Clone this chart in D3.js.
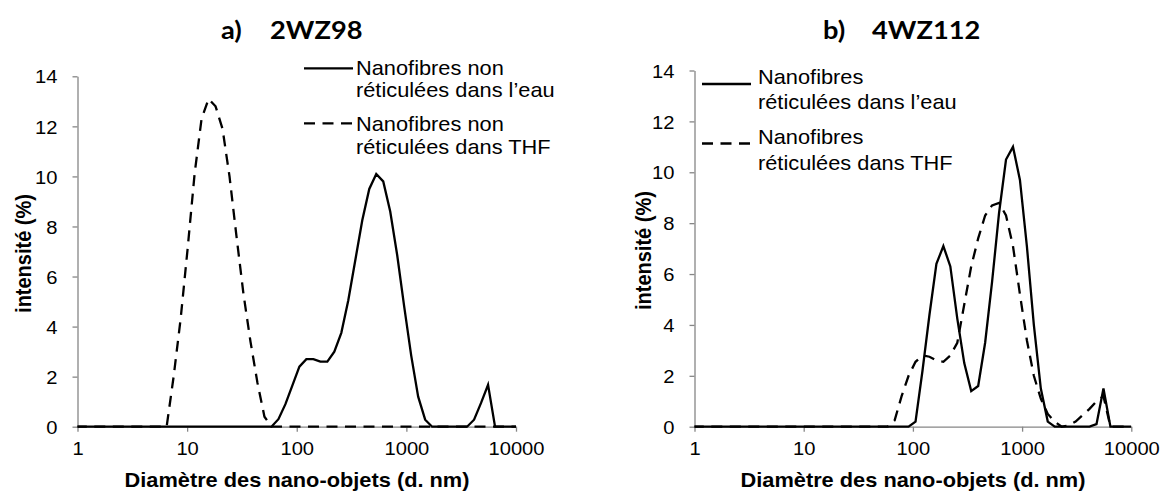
<!DOCTYPE html>
<html>
<head>
<meta charset="utf-8">
<script src="https://cdn.jsdelivr.net/npm/d3@7"></script>
<style>
  html, body { margin: 0; padding: 0; background: #fff; }
  svg { display: block; }
  text { font-family: "Liberation Sans", Arial, sans-serif; fill: #000; }
</style>
</head>
<body>
<svg id="chart" width="1164" height="495"></svg>
<script>
// Size classes of the DLS distribution (d. nm)
const diameters = [0.9649, 1.117, 1.294, 1.499, 1.736, 2.01, 2.328, 2.696, 3.122, 3.615,
  4.187, 4.849, 5.615, 6.503, 7.531, 8.721, 10.1, 11.7, 13.54, 15.69,
  18.17, 21.04, 24.36, 28.21, 32.67, 37.84, 43.82, 50.75, 58.77, 68.06,
  78.82, 91.28, 105.7, 122.4, 141.8, 164.2, 190.1, 220.2, 255.0, 295.3,
  342.0, 396.1, 458.7, 531.2, 615.1, 712.4, 825.0, 955.4, 1106, 1281,
  1484, 1718, 1990, 2305, 2669, 3091, 3580, 4145, 4801, 5560,
  6439, 7456, 8635, 10000];

// a) 2WZ98 : non-crosslinked nanofibres, intensity (%)
const water2WZ98 = [0, 0, 0, 0, 0, 0, 0, 0, 0, 0,
  0, 0, 0, 0, 0, 0, 0, 0, 0, 0,
  0, 0, 0, 0, 0, 0, 0, 0, 0, 0.3,
  0.9, 1.65, 2.4, 2.7, 2.7, 2.6, 2.6, 3.0, 3.75, 5.05,
  6.65, 8.25, 9.5, 10.1, 9.8, 8.6, 6.85, 4.8, 2.85, 1.2,
  0.28, 0, 0, 0, 0, 0, 0, 0.28, 0.95, 1.67,
  0, 0, 0, 0];
const thf2WZ98 = [0, 0, 0, 0, 0, 0, 0, 0, 0, 0,
  0, 0, 0, 0, 2.0, 4.3, 7.1, 10.1, 12.3, 13.1,
  12.8, 11.9, 10.0, 7.6, 5.3, 3.4, 1.75, 0.4, 0, 0,
  0, 0, 0, 0, 0, 0, 0, 0, 0, 0,
  0, 0, 0, 0, 0, 0, 0, 0, 0, 0,
  0, 0, 0, 0, 0, 0, 0, 0, 0, 0,
  0, 0, 0, 0];

// b) 4WZ112 : crosslinked nanofibres, intensity (%)
const water4WZ112 = [0, 0, 0, 0, 0, 0, 0, 0, 0, 0,
  0, 0, 0, 0, 0, 0, 0, 0, 0, 0,
  0, 0, 0, 0, 0, 0, 0, 0, 0, 0,
  0, 0, 0.2, 2.2, 4.4, 6.4, 7.1, 6.3, 4.25, 2.5,
  1.4, 1.6, 3.3, 5.7, 8.4, 10.5, 11.0, 9.7, 7.1, 4.0,
  1.5, 0.2, 0, 0, 0, 0, 0, 0, 0.1, 1.5,
  0, 0, 0, 0];
const thf4WZ112 = [0, 0, 0, 0, 0, 0, 0, 0, 0, 0,
  0, 0, 0, 0, 0, 0, 0, 0, 0, 0,
  0, 0, 0, 0, 0, 0, 0, 0, 0, 0.25,
  1.2, 2.0, 2.55, 2.8, 2.75, 2.6, 2.55, 2.8, 3.3, 4.8,
  6.3, 7.4, 8.3, 8.7, 8.8, 8.3, 7.1, 5.2, 3.4, 2.0,
  1.1, 0.5, 0.2, 0, 0.05, 0.2, 0.45, 0.7, 1.0, 1.2,
  0, 0, 0, 0];

const xTicks = [1, 10, 100, 1000, 10000];
const yTicks = [0, 2, 4, 6, 8, 10, 12, 14];

const legendA = [["Nanofibres non", "réticulées dans l’eau"], ["Nanofibres non", "réticulées dans THF"]];
const legendB = [["Nanofibres", "réticulées dans l’eau"], ["Nanofibres", "réticulées dans THF"]];

const xTitle = "Diamètre des nano-objets (d. nm)";
const yTitle = "intensité (%)";

// horizontal aspect of the lettering
const SX = 1.09;
const AXIS = "#868686";
const DASH = "11,7.5";

const panels = [
  { label: "a)", sample: "2WZ98", series: [water2WZ98, thf2WZ98], names: legendA,
    left: 77.5, right: 516, bottom: 426.7, top: 76.3,
    titleX: 221, yTitleX: 24, xTitleX: 297,
    legend: { x1: 304, x2: 353, tx: 356, lineY: [68.3, 123.3], rows: [[74.5, 96.5], [131, 153.5]] } },
  { label: "b)", sample: "4WZ112", series: [water4WZ112, thf4WZ112], names: legendB,
    left: 694.5, right: 1131.3, bottom: 426.7, top: 70.5,
    titleX: 823, yTitleX: 644, xTitleX: 913,
    legend: { x1: 702, x2: 751, tx: 758, lineY: [84, 143.5], rows: [[84.3, 108.5], [144.3, 169.5]] } }
];

const svg = d3.select("#chart");

function stretchedText(parent, x, y, str, opts = {}) {
  const g = parent.append("g").attr("transform", `translate(${x},${y}) scale(${SX},1)` + (opts.rotate ? ` rotate(${opts.rotate})` : ""));
  return g.append("text")
    .attr("font-size", opts.size || 20)
    .attr("font-weight", opts.weight || "normal")
    .attr("text-anchor", opts.anchor || "start")
    .text(str);
}

panels.forEach((p, pi) => {
  const x = d3.scaleLog().domain([1, 10000]).range([p.left, p.right]);
  const y = d3.scaleLinear().domain([0, 14]).range([p.bottom, p.top]);
  const g = svg.append("g");

  // axes
  const xAxis = d3.axisBottom(x).tickValues(xTicks).tickFormat(d3.format("d")).tickSize(5).tickSizeOuter(0);
  const yAxis = d3.axisLeft(y).tickValues(yTicks).tickFormat(d3.format("d")).tickSize(5).tickSizeOuter(0);

  const gx = g.append("g").attr("transform", `translate(0,${p.bottom})`).call(xAxis);
  const gy = g.append("g").attr("transform", `translate(${p.left},0)`).call(yAxis);

  [gx, gy].forEach(ax => {
    ax.select(".domain").attr("stroke", AXIS).attr("stroke-width", 1.3);
    ax.selectAll(".tick line").attr("stroke", AXIS).attr("stroke-width", 1.3);
    ax.selectAll(".tick text")
      .attr("fill", "#000")
      .attr("font-size", 18.5)
      .style("font-family", '"Liberation Sans", Arial, sans-serif');
  });
  gx.selectAll(".tick text").attr("y", 28.5).attr("dy", null).attr("transform", `scale(${SX},1)`);
  gy.selectAll(".tick text").attr("x", -20 / SX).attr("dy", "0.36em").attr("transform", `scale(${SX},1)`);

  // curves
  const clipId = "plot-clip-" + pi;
  svg.append("clipPath").attr("id", clipId)
    .append("rect").attr("x", p.left).attr("y", 0).attr("width", p.right - p.left).attr("height", p.bottom + 3);

  const line = d3.line().x((d, i) => x(diameters[i])).y(d => y(d));
  const styles = [null, DASH];
  p.series.forEach((s, si) => {
    g.append("path")
      .datum(s)
      .attr("clip-path", `url(#${clipId})`)
      .attr("fill", "none")
      .attr("stroke", "#000")
      .attr("stroke-width", 2.3)
      .attr("stroke-dasharray", styles[si])
      .attr("d", line);
  });

  // legend
  p.names.forEach((rows, si) => {
    g.append("line")
      .attr("x1", p.legend.x1).attr("x2", p.legend.x2)
      .attr("y1", p.legend.lineY[si]).attr("y2", p.legend.lineY[si])
      .attr("stroke", "#000").attr("stroke-width", 2.3)
      .attr("stroke-dasharray", si === 1 ? DASH : null);
    rows.forEach((r, ri) => stretchedText(g, p.legend.tx, p.legend.rows[si][ri], r, { size: 20 }));
  });

  // panel title
  const tg = g.append("g").attr("transform", `translate(${p.titleX},39) scale(${SX},1)`);
  const tt = tg.append("text").attr("font-size", 25).attr("font-weight", "bold")
    .style("font-family", "Lato, 'Liberation Sans', sans-serif");
  tt.append("tspan").attr("x", 0).text(p.label);
  tt.append("tspan").attr("x", 45).text(p.sample);

  // axis titles
  stretchedText(g, p.xTitleX, 487, xTitle, { size: 20, weight: "bold", anchor: "middle" });
  stretchedText(g, p.yTitleX + 7, (p.top + p.bottom) / 2 + 2, yTitle, { size: 20, weight: "bold", anchor: "middle", rotate: -90 });
});
</script>
</body>
</html>
